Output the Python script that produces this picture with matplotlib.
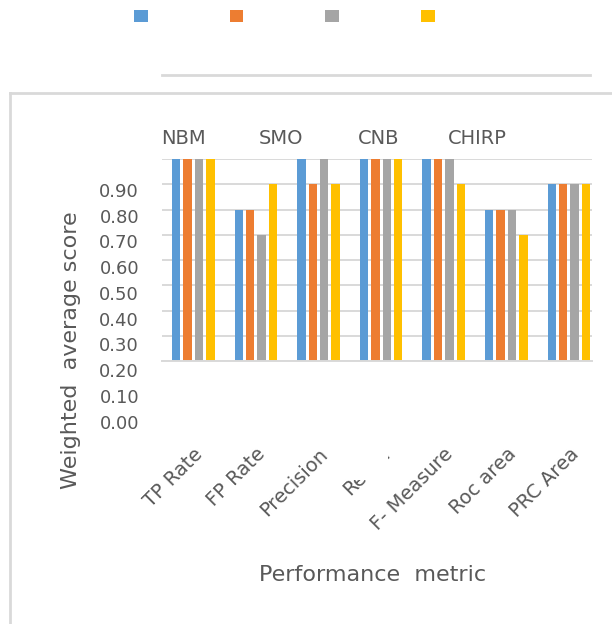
import matplotlib
matplotlib.use("Agg")
import matplotlib.pyplot as plt
from matplotlib.patches import Patch, Rectangle
from matplotlib.lines import Line2D
import numpy as np

# ---------------- data ----------------
metrics = ["TP Rate", "FP Rate", "Precision", "Recall", "F- Measure", "Roc area", "PRC Area"]
series_names = ["NBM", "SMO", "CNB", "CHIRP"]
nbm = [1.0, 0.8, 1.0, 1.0, 1.0, 0.8, 0.9]
smo = [1.0, 0.8, 0.9, 1.0, 1.0, 0.8, 0.9]
cnb = [1.0, 0.7, 1.0, 1.0, 1.0, 0.8, 0.9]
chirp = [1.0, 0.9, 0.9, 1.0, 0.9, 0.7, 0.9]
grid_values = [0.2, 0.3, 0.4, 0.5, 0.6, 0.7, 0.8, 0.9, 1.0]
ytick_values = [0.0, 0.1, 0.2, 0.3, 0.4, 0.5, 0.6, 0.7, 0.8, 0.9]
ytick_labels = ["0.00", "0.10", "0.20", "0.30", "0.40", "0.50", "0.60", "0.70", "0.80", "0.90"]

colors = ["#5B9BD5", "#ED7D31", "#A5A5A5", "#FFC000"]
text_color = "#595959"
grid_color = "#D9D9D9"

plt.rcParams["font.family"] = ["DejaVu Sans"]

W, H = 612, 624
fig = plt.figure(figsize=(W / 100, H / 100), dpi=100)


def fx(x):
    return x / W


def fy(y):
    return 1 - y / H


# main axes
ax = fig.add_axes([fx(162), fy(361), (592 - 162) / W, (361 - 159) / H])
ax.set_ylim(0.2, 1.0)
ax.set_xlim(-0.5, 6.37)

values = [nbm, smo, cnb, chirp]
x = np.arange(len(metrics))
pitch, bw = 0.182, 0.135
for i, (vals, c) in enumerate(zip(values, colors)):
    ax.bar(x + (i - 1.5) * pitch, vals, width=bw, color=c, zorder=2, label=series_names[i])

ax.set_yticks(grid_values)
ax.yaxis.grid(True, color=grid_color, lw=1.4, zorder=0)
ax.set_axisbelow(True)
for s in ["top", "right", "left"]:
    ax.spines[s].set_visible(False)
ax.spines["bottom"].set_color(grid_color)
ax.spines["bottom"].set_linewidth(1.4)
ax.tick_params(axis="y", length=0, labelleft=False)
ax.set_xticks(x)
ax.set_xticklabels(metrics, rotation=45, ha="right", rotation_mode="anchor",
                   fontsize=14, color=text_color)
ax.tick_params(axis="x", length=0, pad=60)

# displaced y tick labels (as in reference)
lax = fig.add_axes([fx(162), fy(421.7), 0.001, (421.7 - 190) / H])
lax.set_ylim(0, 0.9)
lax.set_yticks(ytick_values)
lax.set_yticklabels(ytick_labels, fontsize=13, color=text_color)
lax.tick_params(axis="y", length=0, pad=16.5)
lax.set_xticks([])
for s in lax.spines.values():
    s.set_visible(False)
lax.patch.set_visible(False)

# axis titles
fig.text(fx(71), fy(350), "Weighted  average score", rotation=90, ha="center",
         va="center", fontsize=16, color=text_color)
fig.text(fx(373), fy(575), "Performance  metric", ha="center", va="center",
         fontsize=16, color=text_color)

# series names shown above the bars
for i, name in enumerate(series_names):
    fig.text(fx(183 + i * 98), fy(138), name, ha="center", va="center",
             fontsize=14, color=text_color)

# legend with markers only
handles = [Patch(facecolor=c, edgecolor="none") for c in colors]
fig.legend(handles=handles, labels=[""] * 4, ncol=4, loc="center left",
           bbox_to_anchor=(fx(134), fy(17)), frameon=False, fontsize=10,
           handlelength=1.0, handleheight=1.0, handletextpad=0.0,
           columnspacing=5.88, borderpad=0, borderaxespad=0)

# decorative lines / frame
fig.add_artist(Line2D([fx(162), fx(590)], [fy(75), fy(75)], color=grid_color, lw=2))
fig.add_artist(Line2D([fx(10), fx(10)], [0, fy(93)], color=grid_color, lw=2))
fig.add_artist(Line2D([fx(10), 1], [fy(93), fy(93)], color=grid_color, lw=2))

# partially hidden "Recall" label
fig.add_artist(Rectangle((fx(350), fy(480)), (388 - 350) / W, (480 - 436) / H,
                         transform=fig.transFigure, facecolor="white",
                         edgecolor="none", zorder=10))

fig.savefig("out.png", dpi=100, facecolor="white")
